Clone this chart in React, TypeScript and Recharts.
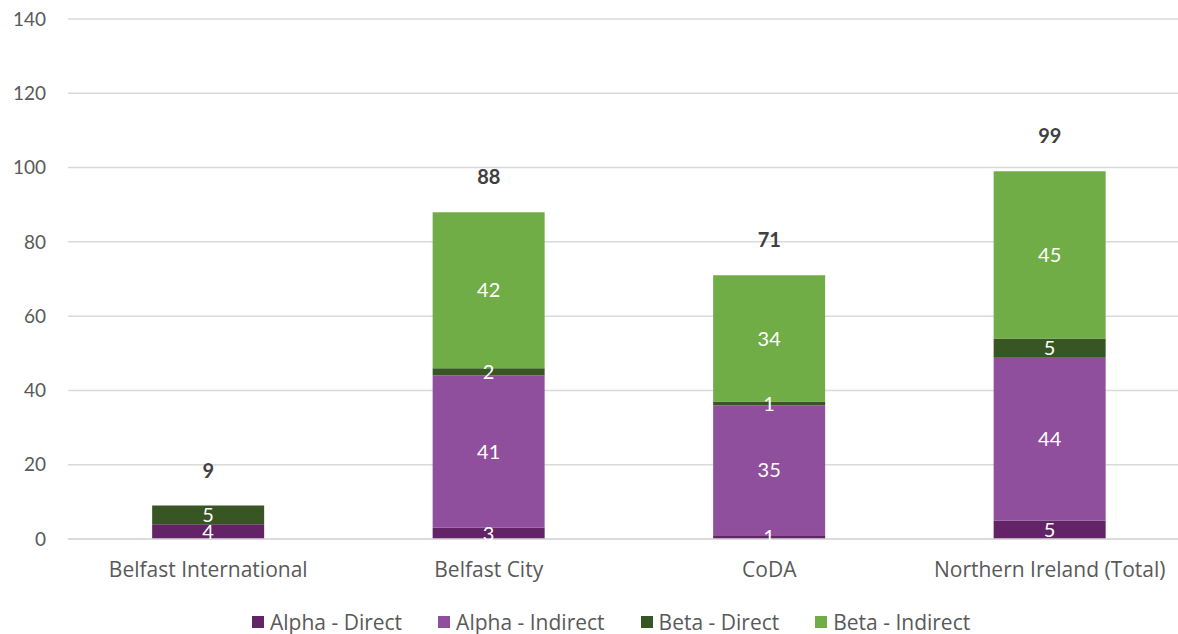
import React from "react";
import {
  Bar,
  Line,
  XAxis,
  YAxis,
  CartesianGrid,
  Legend,
  LabelList,
  ComposedChart,
} from "recharts";

const categories = ["Belfast International", "Belfast City", "CoDA", "Northern Ireland (Total)"];
const alphaDirect = [4, 3, 1, 5];
const alphaIndirect = [0, 41, 35, 44];
const betaDirect = [5, 2, 1, 5];
const betaIndirect = [0, 42, 34, 45];
const totals = [9, 88, 71, 99];
const yTicks = [0, 20, 40, 60, 80, 100, 120, 140];

const series = [
  { key: "alphaDirect", name: "Alpha - Direct", color: "#622467" },
  { key: "alphaIndirect", name: "Alpha - Indirect", color: "#904F9C" },
  { key: "betaDirect", name: "Beta - Direct", color: "#385623" },
  { key: "betaIndirect", name: "Beta - Indirect", color: "#70AD47" },
];

const data = categories.map((name, i) => ({
  name,
  alphaDirect: alphaDirect[i],
  alphaIndirect: alphaIndirect[i],
  betaDirect: betaDirect[i],
  betaIndirect: betaIndirect[i],
  total: totals[i],
}));

const FONT = "Lato, 'Open Sans', sans-serif";
const TEXT_FONT = "'Open Sans', sans-serif";

const LegendContent = () => (
  <div
    style={{
      display: "flex",
      alignItems: "center",
      paddingLeft: 252,
      paddingTop: 10,
      height: 25,
      fontFamily: TEXT_FONT,
      fontSize: 21,
      color: "#595959",
      whiteSpace: "nowrap",
    }}
  >
    {series.map((s) => (
      <div key={s.key} style={{ display: "flex", alignItems: "center", marginRight: 36 }}>
        <span style={{ width: 12, height: 12, background: s.color, display: "inline-block", marginRight: 6 }} />
        <span>{s.name}</span>
      </div>
    ))}
  </div>
);

const hideZero = (v: any) => (v === 0 ? "" : v);

const TotalLabel = (props: any) => {
  const { x, y, value } = props;
  return (
    <text
      x={x}
      y={y - 36}
      textAnchor="middle"
      dominantBaseline="central"
      fill="#404040"
      fontWeight="bold"
      fontSize={20}
      fontFamily={FONT}
    >
      {value}
    </text>
  );
};

export default function App() {
  return (
    <div style={{ position: "absolute", left: 0, top: 0, width: 1178, height: 634, overflow: "hidden", background: "#fff" }}>
      <ComposedChart
        width={1190}
        height={634}
        data={data}
        margin={{ top: 19, right: 0, left: 0, bottom: 0 }}
        barCategoryGap="30%"
      >
        <CartesianGrid vertical={false} stroke="#D9D9D9" strokeWidth={1.5} />
        <XAxis
          dataKey="name"
          height={60}
          tickLine={false}
          axisLine={{ stroke: "#D9D9D9", strokeWidth: 1.5 }}
          tickMargin={17}
          tick={{ fill: "#595959", fontSize: 21, fontFamily: TEXT_FONT }}
          interval={0}
        />
        <YAxis
          width={68}
          domain={[0, 140]}
          ticks={yTicks}
          tickLine={false}
          axisLine={false}
          tickMargin={16}
          tick={{ fill: "#595959", fontSize: 19, fontFamily: FONT }}
        />
        <Legend verticalAlign="bottom" height={35} content={<LegendContent />} />
        {series.map((s) => (
          <Bar key={s.key} dataKey={s.key} name={s.name} stackId="a" fill={s.color} isAnimationActive={false}>
            <LabelList
              dataKey={s.key}
              position="center"
              fill="#FFFFFF"
              fontSize={20}
              fontFamily={FONT}
              formatter={hideZero}
            />
          </Bar>
        ))}
        <Line
          dataKey="total"
          stroke="none"
          dot={false}
          activeDot={false}
          legendType="none"
          isAnimationActive={false}
        >
          <LabelList dataKey="total" content={<TotalLabel />} />
        </Line>
      </ComposedChart>
    </div>
  );
}
